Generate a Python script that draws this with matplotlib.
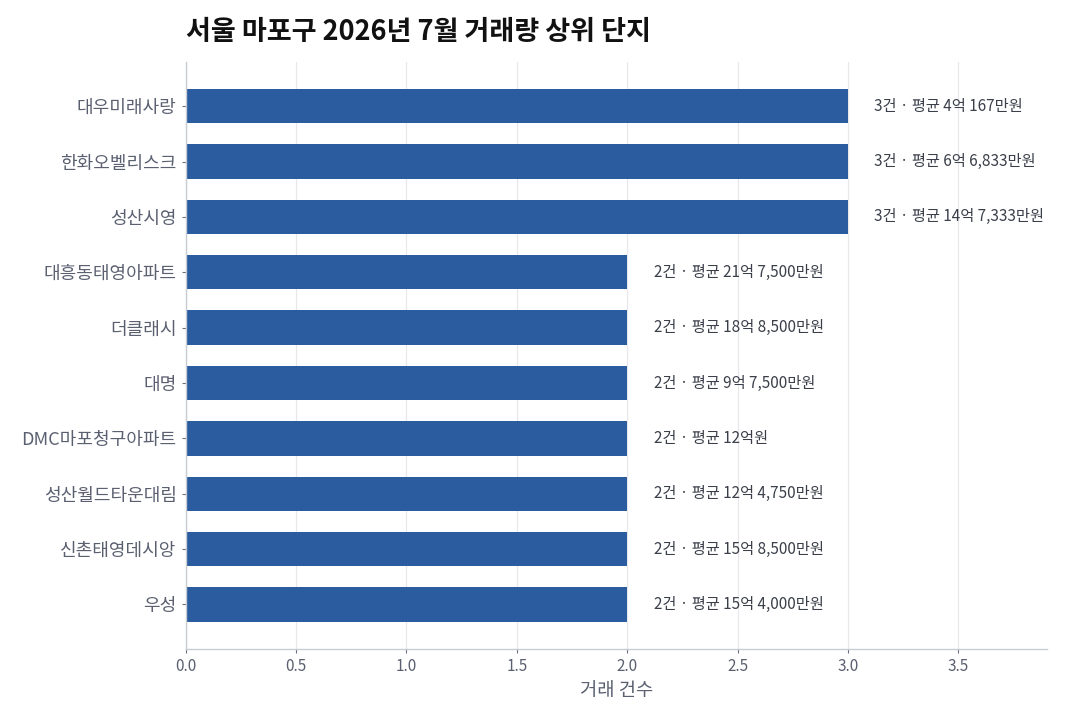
import matplotlib
matplotlib.use("Agg")
import matplotlib.pyplot as plt

plt.rcParams['font.family'] = ['Noto Sans CJK KR', 'DejaVu Sans']

# 단지별 거래 건수 (위에서 아래 순서)
complexes = ['대우미래사랑', '한화오벨리스크', '성산시영', '대흥동태영아파트', '더클래시',
             '대명', 'DMC마포청구아파트', '성산월드타운대림', '신촌태영데시앙', '우성']
counts = [3, 3, 3, 2, 2, 2, 2, 2, 2, 2]
labels = ['3건 · 평균 4억 167만원', '3건 · 평균 6억 6,833만원', '3건 · 평균 14억 7,333만원',
          '2건 · 평균 21억 7,500만원', '2건 · 평균 18억 8,500만원', '2건 · 평균 9억 7,500만원',
          '2건 · 평균 12억원', '2건 · 평균 12억 4,750만원', '2건 · 평균 15억 8,500만원',
          '2건 · 평균 15억 4,000만원']

fig = plt.figure(figsize=(10.8, 7.2), dpi=100)
ax = fig.add_axes([0.172, 0.099, 0.797, 0.815])

ypos = list(range(len(complexes)))
ax.barh(ypos, counts, height=0.62, color='#2b5c9f', zorder=2)

for y, c, t in zip(ypos, counts, labels):
    ax.text(c + 0.12, y, t, va='center', ha='left', fontsize=11, color='#3a3f4a')

ax.set_yticks(ypos)
ax.set_yticklabels(complexes)
ax.set_ylim(len(complexes) - 0.2, -0.8)
ax.set_xlim(0, 3.9)
ax.set_xticks([0, 0.5, 1.0, 1.5, 2.0, 2.5, 3.0, 3.5])

ax.grid(axis='x', color='#e8e8ec', linewidth=0.9, zorder=0)
ax.set_axisbelow(True)
for s in ['top', 'right']:
    ax.spines[s].set_visible(False)
for s in ['left', 'bottom']:
    ax.spines[s].set_color('#c8ccd4')
    ax.spines[s].set_linewidth(1.0)

ax.tick_params(axis='both', colors='#6a7080', labelcolor='#5a6070', length=3)
ax.tick_params(axis='y', labelsize=13)
ax.tick_params(axis='x', labelsize=11)
ax.set_xlabel('거래 건수', fontsize=13.5, color='#5a6070', labelpad=4)

fig.text(0.172, 0.955, '서울 마포구 2026년 7월 거래량 상위 단지', fontsize=19.5,
         fontweight='bold', color='#111111', ha='left', va='center')

fig.savefig('out.png', dpi=100)
